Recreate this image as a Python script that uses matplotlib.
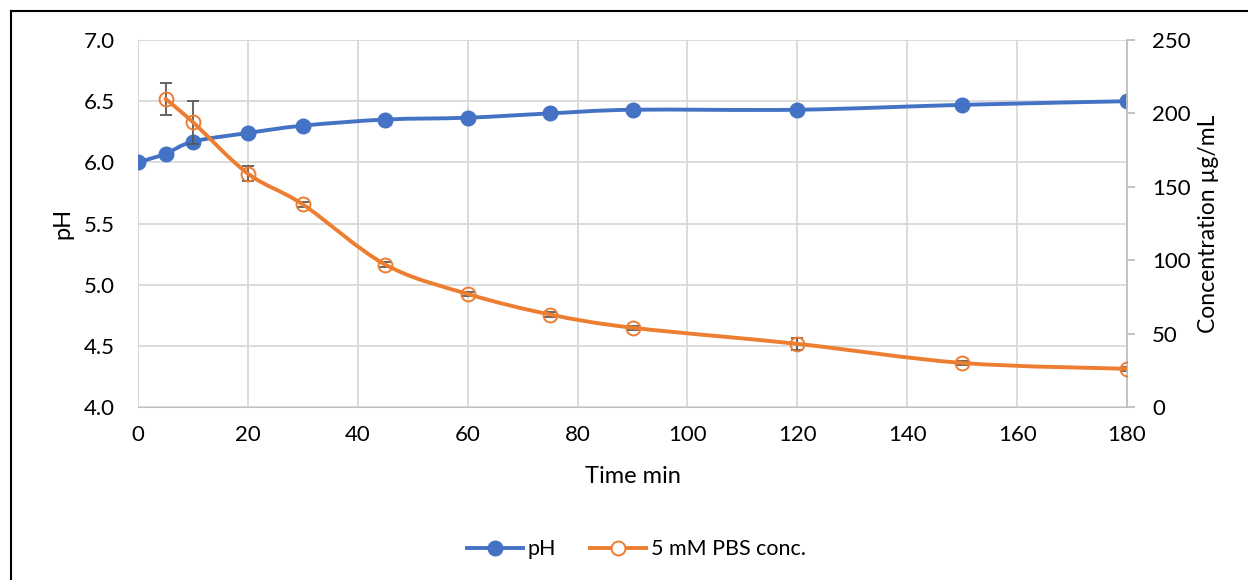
import matplotlib
matplotlib.use("Agg")
import matplotlib.pyplot as plt
import numpy as np
from matplotlib.path import Path
from matplotlib.patches import PathPatch
from matplotlib.lines import Line2D

plt.rcParams['font.family'] = ['Lato', 'DejaVu Sans']

time_min = [0, 5, 10, 20, 30, 45, 60, 75, 90, 120, 150, 180]
ph = [6.00, 6.07, 6.17, 6.24, 6.30, 6.35, 6.365, 6.40, 6.43, 6.43, 6.47, 6.50]

conc_time = [5, 10, 20, 30, 45, 60, 75, 90, 120, 150, 180]
conc = [210, 194, 159, 138, 97, 77, 63, 54, 43, 30, 26]
conc_err = [11, 14.5, 5, 1.5, 1.5, 1.5, 1.5, 1.5, 4, 1.5, 1.5]

BLUE = '#4472C4'
ORANGE = '#ED7D31'
GRID = '#D9D9D9'


def smooth_path(x, y):
    # Catmull-Rom through the points, written as cubic Bezier segments
    x = np.asarray(x, float)
    y = np.asarray(y, float)
    p = np.column_stack([x, y])
    verts = [p[0]]
    codes = [Path.MOVETO]
    n = len(p)
    for i in range(n - 1):
        p0 = p[i - 1] if i > 0 else p[i]
        p3 = p[i + 2] if i + 2 < n else p[i + 1]
        c1 = p[i] + (p[i + 1] - p0) / 6
        c2 = p[i + 1] - (p3 - p[i]) / 6
        verts += [c1, c2, p[i + 1]]
        codes += [Path.CURVE4] * 3
    return Path(verts, codes)


fig = plt.figure(figsize=(12.48, 5.8), dpi=100)
ax = fig.add_axes([0.1106, 0.2983, 0.7925, 0.6327])
ax2 = ax.twinx()

# pH on the left axis
ax.add_patch(PathPatch(smooth_path(time_min, ph), fill=False, edgecolor=BLUE,
                       lw=2.8, zorder=3, capstyle='round'))
ax.plot(time_min, ph, ls='none', marker='o', ms=10.5, color=BLUE, zorder=4)

# concentration on the right axis
ax2.errorbar(conc_time, conc, yerr=conc_err, fmt='none', ecolor='#595959',
             elinewidth=1.3, capsize=4, capthick=1.3, zorder=2)
ax2.add_patch(PathPatch(smooth_path(conc_time, conc), fill=False, edgecolor=ORANGE,
                        lw=2.8, zorder=3, capstyle='round'))
ax2.plot(conc_time, conc, ls='none', marker='o', ms=10, mfc='none', mec=ORANGE,
         mew=1.4, zorder=4)

ax.set_xlim(0, 180)
ax.set_ylim(4.0, 7.0)
ax2.set_ylim(0, 250)
ax.set_xticks(np.arange(0, 181, 20))
ax.set_yticks(np.arange(4.0, 7.01, 0.5))
ax.set_yticklabels([f'{v:.1f}' for v in np.arange(4.0, 7.01, 0.5)])
ax2.set_yticks(np.arange(0, 251, 50))

ax.grid(True, color=GRID, lw=1.3)
ax.set_axisbelow(True)
for a in (ax, ax2):
    for s in a.spines.values():
        s.set_visible(False)
ax.spines['bottom'].set_visible(True)
ax.spines['bottom'].set_color('#BFBFBF')
ax.spines['left'].set_visible(True)
ax.spines['left'].set_color(GRID)
ax2.spines['right'].set_visible(True)
ax2.spines['right'].set_color('#BFBFBF')
ax2.spines['right'].set_linewidth(1.3)

ax.tick_params(axis='x', length=0, labelsize=16, pad=13)
ax.tick_params(axis='y', length=0, labelsize=16, pad=17)
ax2.tick_params(axis='y', length=6, color='#BFBFBF', width=1.3, labelsize=16, pad=12)

ax.set_xlabel('Time min', fontsize=17, va='center')
ax.xaxis.set_label_coords(0.5, -0.19)
ax.set_ylabel('pH', fontsize=17, va='center')
ax.yaxis.set_label_coords(-0.076, 0.5)
ax2.set_ylabel('Concentration µg/mL', fontsize=16.5, va='center', rotation=90)
ax2.yaxis.set_label_coords(1.082, 0.5)

handles = [
    Line2D([], [], color=BLUE, lw=2.8, marker='o', ms=10.5),
    Line2D([], [], color=ORANGE, lw=2.8, marker='o', ms=10, mfc='white', mew=1.4),
]
fig.legend(handles, ['pH', '5 mM PBS conc.'], loc='center', bbox_to_anchor=(0.51, 0.053),
           ncol=2, frameon=False, fontsize=15.5, handlelength=2.6, columnspacing=1.6,
           handletextpad=0.2)

# outer chart border
fig.add_artist(Line2D([11 / 1248, 11 / 1248], [0, 1 - 11 / 580], transform=fig.transFigure,
                      color='black', lw=1.5))
fig.add_artist(Line2D([11 / 1248, 1], [1 - 11 / 580, 1 - 11 / 580], transform=fig.transFigure,
                      color='black', lw=1.5))

fig.savefig('out.png', dpi=100)
